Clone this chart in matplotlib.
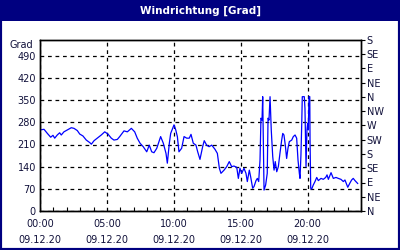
import matplotlib
matplotlib.use("Agg")
import matplotlib.pyplot as plt
from matplotlib.patches import Rectangle

hours = [0.0, 0.30, 0.55, 0.80, 0.97, 1.10, 1.29, 1.47, 1.59, 1.79, 2.04, 2.34, 2.54, 2.79, 2.97,
         3.21, 3.46, 3.72, 3.84, 4.04, 4.28, 4.58, 4.84, 5.08, 5.33, 5.53, 5.78, 5.96, 6.28, 6.53,
         6.83, 7.08, 7.27, 7.48, 7.72, 7.98, 8.17, 8.35, 8.52, 8.73, 9.02, 9.22, 9.42, 9.52, 9.67,
         9.77, 9.92, 10.02, 10.15, 10.27, 10.39, 10.59, 10.77, 10.97, 11.16, 11.29, 11.46, 11.66,
         11.79, 11.96, 12.16, 12.28, 12.46, 12.64, 12.84, 13.08, 13.26, 13.41, 13.53, 13.76, 13.96,
         14.15, 14.33, 14.50, 14.71, 14.83, 14.95, 15.08, 15.25, 15.40, 15.50, 15.65, 15.75, 15.90,
         16.00, 16.15, 16.25, 16.35, 16.45, 16.52, 16.60, 16.65, 16.75, 16.87, 16.99, 17.05, 17.12,
         17.20, 17.29, 17.40, 17.50, 17.59, 17.70, 17.82, 17.94, 18.07, 18.15, 18.24, 18.34, 18.44,
         18.54, 18.64, 18.82, 18.94, 19.07, 19.19, 19.29, 19.39, 19.44, 19.51, 19.57, 19.61, 19.76,
         19.81, 19.89, 19.96, 20.01, 20.06, 20.11, 20.17, 20.19, 20.24, 20.31, 20.43, 20.56, 20.69,
         20.81, 21.01, 21.18, 21.36, 21.46, 21.56, 21.76, 21.93, 22.13, 22.30, 22.50, 22.68, 22.80,
         23.01, 23.18, 23.30, 23.42, 23.55, 23.75]
direction = [256, 258, 245, 233, 239, 230, 240, 247, 240, 250, 256, 263, 261, 254, 243,
             237, 224, 216, 211, 222, 230, 240, 250, 243, 230, 224, 226, 235, 253, 250,
             261, 250, 230, 214, 203, 187, 208, 187, 184, 198, 235, 214, 182, 151, 214,
             245, 261, 272, 256, 235, 187, 198, 235, 230, 230, 242, 214, 208,
             187, 163, 203, 222, 208, 203, 208, 195, 182, 135, 119, 129, 140,
             156, 140, 142, 138, 103, 135, 119, 135, 119, 93, 129, 108, 72,
             77, 96, 103, 93, 161, 293, 287, 361, 66, 82, 119, 293, 287,
             361, 256, 172, 129, 156, 124, 140, 182, 224, 245, 240, 208, 166,
             198, 219, 224, 235, 240, 230, 161, 119, 103, 177, 277, 361, 361,
             324, 140, 256, 277, 256, 361, 361, 224, 72, 69, 82, 93, 106,
             96, 103, 100, 106, 114, 100, 121, 103, 106, 103, 100, 93, 98,
             75, 89, 98, 103, 96, 87]

left_ticks = [0, 70, 140, 210, 280, 350, 420, 490]
right_ticks = [0, 45, 90, 135, 180, 225, 270, 315, 360, 405, 450, 495, 540]
right_labels = ["N", "NE", "E", "SE", "S", "SW", "W", "NW", "N", "NE", "E", "SE", "S"]
x_major = [0, 5, 10, 15, 20]
x_labels = ["00:00\n09.12.20", "05:00\n09.12.20", "10:00\n09.12.20", "15:00\n09.12.20", "20:00\n09.12.20"]
title = "Windrichtung [Grad]"

navy = "#000080"
txt = "#10103a"

fig = plt.figure(figsize=(4, 2.5), dpi=100)
fig.patch.set_facecolor("white")
# frame + title bar
fig.patches.append(Rectangle((0, 0), 1, 1, transform=fig.transFigure, fill=False,
                             edgecolor=navy, linewidth=3, zorder=10))
fig.patches.append(Rectangle((0, 1 - 21 / 250), 1, 21 / 250, transform=fig.transFigure,
                             facecolor=navy, edgecolor="none", zorder=5))
fig.text(0.5, 1 - 10.5 / 250, title, color="white", fontsize=7.5, fontweight="bold",
         ha="center", va="center", zorder=11)

ax = fig.add_axes([40 / 400, 39 / 250, 321 / 400, 171 / 250])
ax.plot(hours, direction, color="#0000ff", linewidth=0.9)
ax.set_xlim(0, 24)
ax.set_ylim(0, 540)
ax.set_yticks(left_ticks)
ax.set_yticklabels([str(v) for v in left_ticks])
ax.set_xticks(x_major)
ax.set_xticklabels(x_labels, linespacing=1.65)
ax.set_xticks(range(0, 25), minor=True)
ax.tick_params(axis="x", which="minor", direction="in", length=3, width=0.8, color="black")
ax.tick_params(axis="x", which="major", direction="in", length=0, pad=6, labelsize=7, labelcolor=txt)
ax.tick_params(axis="y", which="major", direction="out", length=0, pad=3, labelsize=7, labelcolor=txt)
ax.grid(True, which="major", color="black", linestyle=(0, (3, 3)), linewidth=0.9)
for s in ax.spines.values():
    s.set_color("black")
    s.set_linewidth(1)
ax.text(-0.02, 1.0, "Grad", transform=ax.transAxes, ha="right", va="top", fontsize=7, color=txt)

ax2 = ax.twinx()
ax2.set_ylim(0, 540)
ax2.set_yticks(right_ticks)
ax2.set_yticklabels(right_labels)
ax2.tick_params(axis="y", direction="out", length=3, width=0.8, pad=1, labelsize=7, labelcolor=txt)
for s in ax2.spines.values():
    s.set_color("black")
    s.set_linewidth(1)

fig.savefig("out.png", dpi=100)
